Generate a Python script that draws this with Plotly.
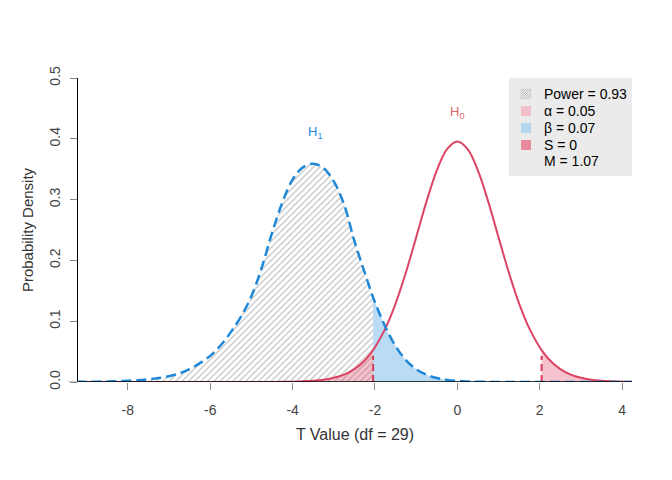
import plotly.graph_objects as go

# -------------------------------------------------------
# Data
# -------------------------------------------------------
df = 29
crit = 2.045
power = 0.93
alpha = 0.05
beta = 0.07
s_val = 0
m_val = 1.07

t_vals = [-9.25, -9.0, -8.75, -8.5, -8.25, -8.0, -7.75, -7.5, -7.25, -7.0,
          -6.75, -6.5, -6.25, -6.0, -5.75, -5.5, -5.25, -5.0, -4.75, -4.5,
          -4.25, -4.0, -3.75, -3.5, -3.25, -3.0, -2.75, -2.5, -2.25, -2.045,
          -2.0, -1.75, -1.5, -1.25, -1.0, -0.75, -0.5, -0.25, 0.0, 0.25,
          0.5, 0.75, 1.0, 1.25, 1.5, 1.75, 2.0, 2.045, 2.25, 2.5,
          2.75, 3.0, 3.25, 3.5, 3.75, 4.0, 4.25]

# alternative hypothesis density (dashed blue)
h1_vals = [0.0002, 0.0004, 0.0006, 0.0009, 0.0013, 0.0020, 0.0030, 0.0045, 0.0065, 0.0095,
           0.014, 0.021, 0.031, 0.043, 0.060, 0.082, 0.108, 0.141, 0.188, 0.245,
           0.295, 0.333, 0.353, 0.359, 0.352, 0.330, 0.292, 0.232, 0.180, 0.139,
           0.131, 0.091, 0.059, 0.036, 0.021, 0.012, 0.0065, 0.0035, 0.0018, 0.0009,
           0.0004, 0.0002, 0.0001, 0.0, 0.0, 0.0, 0.0, 0.0, 0.0, 0.0,
           0.0, 0.0, 0.0, 0.0, 0.0, 0.0, 0.0]

# null hypothesis density (solid red)
h0_vals = [0.0, 0.0, 0.0, 0.0, 0.0, 0.0, 0.0, 0.0, 0.0, 0.0,
           0.0, 0.0, 0.0, 0.0, 0.0, 0.0001, 0.0001, 0.00004, 0.00007, 0.00014,
           0.00028, 0.00054, 0.00105, 0.0020, 0.0038, 0.0069, 0.0122, 0.0212, 0.0354, 0.0524,
           0.0570, 0.0877, 0.1290, 0.1801, 0.2379, 0.2966, 0.3478, 0.3830, 0.3956, 0.3830,
           0.3478, 0.2966, 0.2379, 0.1801, 0.1290, 0.0877, 0.0570, 0.0524, 0.0354, 0.0212,
           0.0122, 0.0069, 0.0038, 0.0020, 0.00105, 0.00054, 0.00028]

x_ticks = [-8, -6, -4, -2, 0, 2, 4]
x_tick_text = ["-8", "-6", "-4", "-2", "0", "2", "4"]
y_ticks = [0.0, 0.1, 0.2, 0.3, 0.4, 0.5]

BLUE = "#1f88d8"
RED = "#dc4464"
FONT = "Liberation Sans, Arial, sans-serif"

# -------------------------------------------------------
# Split into regions
# -------------------------------------------------------
left = [i for i, t in enumerate(t_vals) if t <= -crit]
mid = [i for i, t in enumerate(t_vals) if t >= -crit]
right = [i for i, t in enumerate(t_vals) if t >= crit]
i_lo = t_vals.index(-crit)
i_hi = t_vals.index(crit)

fig = go.Figure()

# power (hatched) under H1
fig.add_trace(go.Scatter(
    x=[t_vals[i] for i in left], y=[h1_vals[i] for i in left],
    mode="lines", line=dict(width=0, shape="spline"), fill="tozeroy",
    fillcolor="rgba(0,0,0,0)",
    fillpattern=dict(shape="/", fgcolor="#858585", bgcolor="rgba(0,0,0,0)", size=4.5, solidity=0.28),
    hoverinfo="skip", showlegend=False))

# beta under H1
fig.add_trace(go.Scatter(
    x=[t_vals[i] for i in mid], y=[h1_vals[i] for i in mid],
    mode="lines", line=dict(width=0, shape="spline"), fill="tozeroy",
    fillcolor="#b9dbf3", hoverinfo="skip", showlegend=False))

# alpha tails under H0
for idx in (left, right):
    fig.add_trace(go.Scatter(
        x=[t_vals[i] for i in idx], y=[h0_vals[i] for i in idx],
        mode="lines", line=dict(width=0, shape="spline"), fill="tozeroy",
        fillcolor="rgba(220,68,100,0.32)", hoverinfo="skip", showlegend=False))

# density curves
fig.add_trace(go.Scatter(
    x=t_vals, y=h0_vals, mode="lines",
    line=dict(color=RED, width=2, shape="spline"), hoverinfo="skip", showlegend=False))
fig.add_trace(go.Scatter(
    x=t_vals, y=h1_vals, mode="lines",
    line=dict(color=BLUE, width=2.5, shape="spline", dash="10px,5px"),
    hoverinfo="skip", showlegend=False))

# critical value markers
for i in (i_lo, i_hi):
    fig.add_trace(go.Scatter(
        x=[t_vals[i], t_vals[i]], y=[0, h0_vals[i] * 0.82], mode="lines",
        line=dict(color="#d63a5a", width=2, dash="7px,4px"),
        hoverinfo="skip", showlegend=False))

# baseline and small axis stub
fig.add_shape(type="line", xref="paper", yref="y", x0=0, x1=1, y0=0, y1=0,
              line=dict(color="black", width=1.5), layer="above")
fig.add_shape(type="line", xref="paper", yref="y", x0=-0.018, x1=0, y0=0, y1=0,
              line=dict(color="#999999", width=1), layer="above")

# hypothesis labels
fig.add_annotation(x=-3.45, y=0.41, text="H<sub>1</sub>", showarrow=False,
                   font=dict(color=BLUE, size=13, family=FONT))
fig.add_annotation(x=0, y=0.444, text="H<sub>0</sub>", showarrow=False,
                   font=dict(color="#e4646e", size=13, family=FONT))

# -------------------------------------------------------
# Legend box (paper coordinates, from screen pixels)
# -------------------------------------------------------
def px_x(px):
    return (px - 78) / 554

def px_y(py):
    return (382 - py) / 304

fig.add_shape(type="rect", xref="paper", yref="paper",
              x0=px_x(509), x1=px_x(632), y0=px_y(176), y1=px_y(78),
              fillcolor="#ebebeb", line=dict(width=0), layer="above")

legend_rows = [
    (94, f"Power = {power}", "hatch"),
    (111, f"α = {alpha}", "#f0bfca"),
    (128, f"β = {beta}", "#b4d6ef"),
    (145, f"S = {s_val}", "#e8899c"),
    (161, f"M = {m_val}", None),
]
sw_x = 521
sw_size = 10
for cy, label, sw in legend_rows:
    if sw == "hatch":
        fig.add_shape(type="rect", xref="paper", yref="paper",
                      x0=px_x(sw_x), x1=px_x(sw_x + sw_size),
                      y0=px_y(cy + sw_size / 2), y1=px_y(cy - sw_size / 2),
                      fillcolor="#f6f6f6", line=dict(color="#cccccc", width=0.5), layer="above")
        for c in (-7.5, -5, -2.5, 0, 2.5, 5, 7.5):
            u1, u2 = max(0, c), min(sw_size, sw_size + c)
            fig.add_shape(type="line", xref="paper", yref="paper",
                          x0=px_x(sw_x + u1), x1=px_x(sw_x + u2),
                          y0=px_y(cy + sw_size / 2 - (u1 - c)), y1=px_y(cy + sw_size / 2 - (u2 - c)),
                          line=dict(color="#9a9a9a", width=0.8), layer="above")
    elif sw is not None:
        fig.add_shape(type="rect", xref="paper", yref="paper",
                      x0=px_x(sw_x), x1=px_x(sw_x + sw_size),
                      y0=px_y(cy + sw_size / 2), y1=px_y(cy - sw_size / 2),
                      fillcolor=sw, line=dict(width=0), layer="above")
    fig.add_annotation(xref="paper", yref="paper", x=px_x(542), y=px_y(cy),
                       text=label, showarrow=False, xanchor="left", yanchor="middle",
                       font=dict(color="black", size=14, family=FONT))

# -------------------------------------------------------
# Axes and layout
# -------------------------------------------------------
fig.update_xaxes(
    range=[-9.21, 4.24], tickvals=x_ticks, ticktext=x_tick_text, ticks="outside", ticklen=7,
    tickcolor="#888888", tickwidth=1, showline=False, showgrid=False, zeroline=False,
    tickfont=dict(size=14, color="#444444", family=FONT), ticklabelstandoff=8,
    title=dict(text="T Value (df = 29)", standoff=12,
               font=dict(size=16, color="#333333", family=FONT)),
    automargin=False)
fig.update_yaxes(
    range=[0, 0.5], tickvals=y_ticks, tickformat=".1f", tickangle=-90,
    ticks="outside", ticklen=7, tickcolor="#888888", tickwidth=1,
    showline=True, linecolor="black", linewidth=1, showgrid=False, zeroline=False,
    tickfont=dict(size=14, color="#444444", family=FONT), ticklabelstandoff=4,
    title=dict(text="Probability Density", standoff=10,
               font=dict(size=15, color="#333333", family=FONT)),
    automargin=False)

# page body adds an 8px offset, so the figure is sized to fit inside it
fig.update_layout(
    width=656, height=464,
    margin=dict(l=70, r=32, t=70, b=90),
    plot_bgcolor="white", paper_bgcolor="white",
    font=dict(family=FONT),
    showlegend=False)

fig.write_html("out.html")
